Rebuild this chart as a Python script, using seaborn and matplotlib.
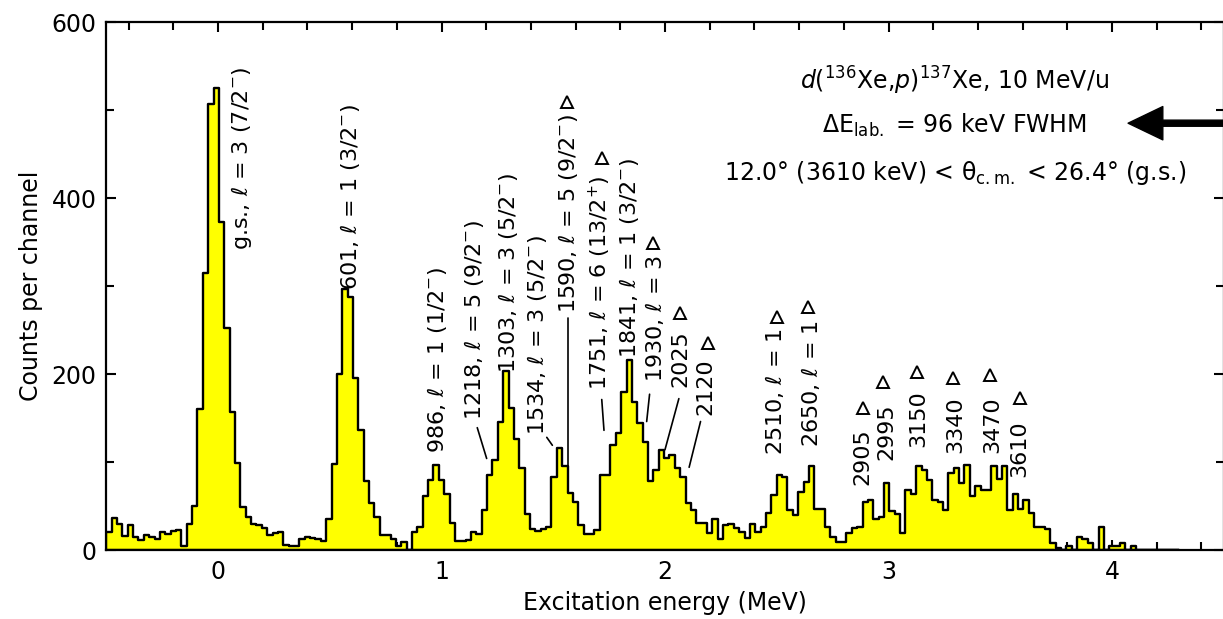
import numpy as np
import pandas as pd
import matplotlib
matplotlib.use("Agg")
import matplotlib.pyplot as plt
from matplotlib.ticker import MultipleLocator
import seaborn as sns

sns.set_style("ticks")
plt.rcParams["font.family"] = ["DejaVu Sans"]
plt.rcParams["mathtext.fontset"] = "dejavusans"
for key in ("text.color", "axes.labelcolor", "xtick.color", "ytick.color",
            "axes.edgecolor"):
    plt.rcParams[key] = "black"

# Channel grid of the excitation-energy spectrum (MeV)
channel_start = -0.5
channel_width = 0.024

# Counts per channel
counts = [
    21, 36, 30, 16, 28, 15, 11, 17, 15, 12,
    20, 18, 22, 23, 4, 30, 50, 160, 315, 507,
    525, 373, 252, 157, 99, 49, 38, 30, 28, 25,
    17, 19, 21, 6, 4, 5, 12, 15, 14, 13,
    10, 35, 98, 200, 297, 288, 195, 136, 78, 53,
    38, 17, 17, 12, 5, 9, 0, 20, 26, 61,
    80, 97, 80, 64, 31, 10, 10, 11, 21, 18,
    45, 85, 102, 146, 203, 161, 126, 93, 41, 24,
    22, 24, 26, 83, 116, 96, 65, 55, 28, 18,
    18, 23, 85, 85, 119, 133, 179, 216, 168, 144,
    123, 78, 91, 114, 104, 108, 93, 83, 53, 45,
    31, 31, 19, 35, 12, 28, 30, 25, 21, 14,
    30, 21, 26, 42, 62, 85, 83, 45, 40, 66,
    77, 96, 47, 47, 26, 15, 9, 9, 19, 25,
    26, 54, 57, 35, 37, 76, 44, 41, 19, 68,
    64, 95, 91, 80, 57, 55, 45, 87, 93, 76,
    97, 61, 73, 68, 68, 95, 81, 95, 45, 64,
    47, 57, 42, 26, 26, 24, 8, 2, 0, 4,
    0, 15, 12, 8, 0, 26, 0, 5, 5, 8,
    0, 4, 0, 0, 0, 0, 0, 0, 0, 0,
]

# State labels (rotated), their anchor (x in MeV, y in counts)
peak_labels = [
    r"g.s., $\ell$ = 3 (7/2$^{-}$)",
    r"601, $\ell$ = 1 (3/2$^{-}$)",
    r"986, $\ell$ = 1 (1/2$^{-}$)",
    r"1218, $\ell$ = 5 (9/2$^{-}$)",
    r"1303, $\ell$ = 3 (5/2$^{-}$)",
    r"1534, $\ell$ = 3 (5/2$^{-}$)",
    r"1590, $\ell$ = 5 (9/2$^{-}$)",
    r"1751, $\ell$ = 6 (13/2$^{+}$)",
    r"1841, $\ell$ = 1 (3/2$^{-}$)",
    r"1930, $\ell$ = 3",
    "2025",
    "2120",
    r"2510, $\ell$ = 1",
    r"2650, $\ell$ = 1",
    "2905",
    "2995",
    "3150",
    "3340",
    "3470",
    "3610",
]
label_x = [0.103, 0.591, 0.980, 1.145, 1.298, 1.427, 1.566, 1.709, 1.839, 1.951,
           2.067, 2.179, 2.492, 2.653, 2.881, 2.989, 3.132, 3.298, 3.463, 3.584]
label_y = [341, 295, 110, 148, 201, 131, 269, 182, 218, 191,
           185, 153, 108, 117, 74, 102, 117, 110, 110, 83]

# Open triangles marking tentative states
tri_x = [1.561, 1.718, 1.946, 2.067, 2.192, 2.501, 2.640, 2.886, 2.975,
         3.128, 3.289, 3.454, 3.588]
tri_y = [509, 445, 349, 269, 235, 265, 276, 161, 191, 202, 195, 199, 173]

# Leader lines from labels to their peaks: (x0, y0, x1, y1)
leader_x0 = [1.160, 1.471, 1.567, 1.717, 1.931, 2.062, 2.159]
leader_y0 = [139, 128, 264, 171, 177, 172, 146]
leader_x1 = [1.202, 1.496, 1.567, 1.727, 1.918, 2.000, 2.108]
leader_y1 = [104, 119, 71, 136, 146, 114, 94]

edges = channel_start + channel_width * np.arange(len(counts) + 1)
spectrum = pd.DataFrame({
    "energy": edges[:-1] + channel_width / 2,
    "counts": np.asarray(counts, dtype=float),
})

fig = plt.figure(figsize=(12.23, 6.19), dpi=100)
ax = fig.add_axes([106.25 / 1223, 69 / 619, 1117.5 / 1223, 528 / 619])

sns.histplot(data=spectrum, x="energy", weights="counts", bins=list(edges),
             element="step", fill=True, color="#ffff00", edgecolor="black",
             linewidth=1.7, alpha=1, ax=ax)

ax.set_xlim(-0.5, 4.5)
ax.set_ylim(0, 600)
ax.set_xticks([0, 1, 2, 3, 4])
ax.xaxis.set_minor_locator(MultipleLocator(0.2))
ax.yaxis.set_major_locator(MultipleLocator(200))
ax.yaxis.set_minor_locator(MultipleLocator(100))
ax.tick_params(which="both", direction="in", top=True, right=True, width=1.5,
               labelsize=17, pad=7, color="black", labelcolor="black")
ax.tick_params(which="major", length=7.5)
ax.tick_params(which="minor", length=5.5)
for sp in ax.spines.values():
    sp.set_linewidth(1.6)
    sp.set_color("black")

ax.set_xlabel("Excitation energy (MeV)", fontsize=17, labelpad=5, color="black")
ax.set_ylabel("Counts per channel", fontsize=17, labelpad=6, color="black")

for s, x, y in zip(peak_labels, label_x, label_y):
    ax.text(x, y, s, rotation=90, ha="center", va="bottom", fontsize=16,
            color="black")

for x0, y0, x1, y1 in zip(leader_x0, leader_y0, leader_x1, leader_y1):
    ax.plot([x0, x1], [y0, y1], color="black", lw=1.2)

ax.plot(tri_x, tri_y, linestyle="none", marker="^", markersize=8,
        markerfacecolor="white", markeredgecolor="black", markeredgewidth=1.4,
        clip_on=False)

ax.text(3.297, 523, r"$d$($^{136}$Xe,$p$)$^{137}$Xe, 10 MeV/u",
        ha="center", va="baseline", fontsize=17, color="black")
ax.text(3.297, 474, r"ΔE$_{\mathrm{lab.}}$ = 96 keV FWHM",
        ha="center", va="baseline", fontsize=17, color="black")
ax.text(3.297, 420, r"12.0° (3610 keV) < θ$_{\mathrm{c.m.}}$ < 26.4° (g.s.)",
        ha="center", va="baseline", fontsize=17, color="black")

ax.annotate("", xy=(4.072, 485), xytext=(4.58, 485),
            arrowprops=dict(arrowstyle="simple,head_length=1.25,head_width=1.2,tail_width=0.22",
                            mutation_scale=20, fc="black", ec="black",
                            shrinkA=0, shrinkB=0),
            annotation_clip=False)

fig.savefig("out.png", dpi=100)
